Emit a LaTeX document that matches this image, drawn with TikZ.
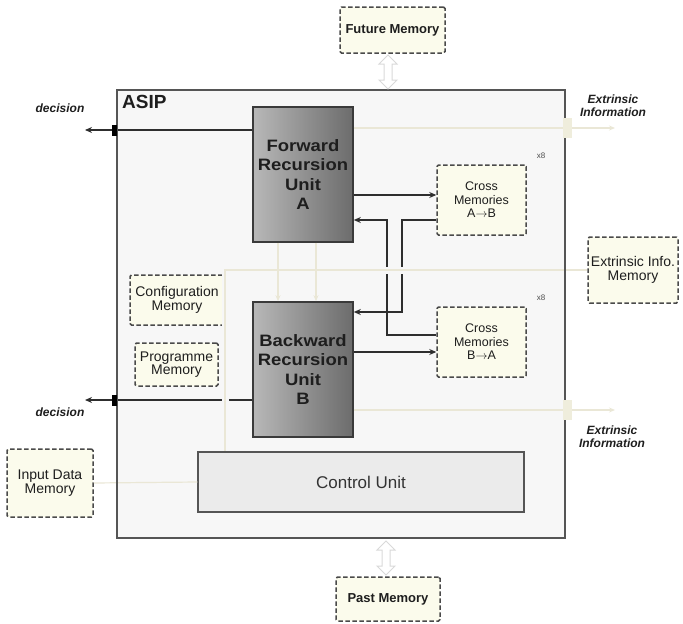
\documentclass[tikz,border=0pt]{standalone}
\usepackage{fontspec}
\setmainfont{Liberation Sans}
\newfontfamily\unitfont{Liberation Sans}[FakeStretch=1.12]
\usetikzlibrary{arrows.meta,calc}

\definecolor{frame}{HTML}{555555}
\definecolor{asipfill}{HTML}{F7F7F7}
\definecolor{memline}{HTML}{4A4A4A}
\definecolor{memfill}{HTML}{FBFBEC}
\definecolor{unitline}{HTML}{3A3A3A}
\definecolor{unitlight}{HTML}{B8B8B8}
\definecolor{unitdark}{HTML}{6C6C6C}
\definecolor{ctrlfill}{HTML}{EBEBEB}
\definecolor{blkc}{HTML}{2E2E2E}
\definecolor{lightc}{HTML}{EAE7D6}
\definecolor{portc}{HTML}{EFEDDC}
\definecolor{txt}{HTML}{1E1E1E}

\tikzset{
  mem/.style={draw=memline, fill=memfill, dashed, dash pattern=on 4.5pt off 2.5pt,
    line width=1.5pt, rounded corners=1.5pt, inner sep=0pt, align=center,
    text=txt, font=\fontsize{12.5}{13.5}\selectfont},
  widemem/.style={mem, font=\fontsize{14}{14.5}\selectfont},
  tightmem/.style={mem, font=\fontsize{14}{10.5}\selectfont},
  boldmem/.style={mem, font=\bfseries\fontsize{13}{14}\selectfont},
  unitbox/.style={draw=unitline, line width=1.6pt, left color=unitlight, right color=unitdark,
    minimum width=100pt, minimum height=135pt, inner sep=0pt, align=center, text=txt,
    font=\unitfont\bfseries\fontsize{16.5}{19.3}\selectfont},
  blk/.style={draw=blkc, line width=1.6pt},
  blkarr/.style={blk, -{Stealth[length=7pt,width=6pt]}},
  light/.style={draw=lightc, line width=1.2pt},
  lightarr/.style={light, -{Stealth[length=6pt,width=5pt]}},
  gap/.style={preaction={draw=asipfill, line width=7pt}},
  outlabel/.style={align=center, text=txt, font=\bfseries\itshape\fontsize{12}{13}\selectfont},
  port/.style={fill=portc, minimum width=9pt, minimum height=20pt, inner sep=0pt},
  pin/.style={fill=black, minimum width=5pt, minimum height=11pt, inner sep=0pt},
  updown/.pic={\draw[draw=gray!30, fill=white, line width=1pt, line join=miter]
    (0,-17) -- (9,-8) -- (4,-8) -- (4,8) -- (9,8) -- (0,17) -- (-9,8) -- (-4,8)
    -- (-4,-8) -- (-9,-8) -- cycle;}
}

\begin{document}
\begin{tikzpicture}[x=1pt,y=-1pt]
\useasboundingbox (0,0) rectangle (683,624);

% processor frame
\node[fill=asipfill, minimum width=448pt, minimum height=448pt, inner sep=0pt] (asip) at (341,314) {};
\node[anchor=north west, inner sep=0pt, text=txt, font=\bfseries\fontsize{19}{19}\selectfont] (asiplbl) at (122,95) {ASIP};

% recursion units
\node[unitbox] (fwd) at (303,174.5) {Forward\\Recursion\\Unit\\A};
\node[unitbox] (bwd) at (303,369.5) {Backward\\Recursion\\Unit\\B};

% control unit
\node[draw=frame, fill=ctrlfill, line width=1.4pt, minimum width=326pt, minimum height=60pt,
      inner sep=0pt, text=black!80, font=\fontsize{17}{17}\selectfont] (ctrl) at (361,482) {Control Unit};

% memories
\node[mem, minimum width=89pt, minimum height=70pt] (cab) at (481.5,200) {Cross\\Memories\\A$\rightarrow$B};
\node[mem, minimum width=89pt, minimum height=70pt] (cba) at (481.5,342) {Cross\\Memories\\B$\rightarrow$A};
\node[tightmem, minimum width=94pt, minimum height=50pt] (conf) at (177,300) {Configuration\\Memory};
\node[tightmem, minimum width=83pt, minimum height=43pt] (prog) at (176.5,364.5) {Programme\\Memory};
\node[boldmem, minimum width=105pt, minimum height=46pt] (fut) at (392.5,30) {Future Memory};
\node[boldmem, minimum width=104pt, minimum height=44pt] (past) at (388,599) {Past Memory};
\node[widemem, minimum width=90pt, minimum height=66pt] (extm) at (633,270) {Extrinsic Info.\\Memory};
\node[widemem, minimum width=86pt, minimum height=68pt] (inp) at (50,483) {Input Data\\Memory};

% multiplicity marks
\node[font=\fontsize{8}{8}\selectfont, text=black!70] (xa) at (541,156) {x8};
\node[font=\fontsize{8}{8}\selectfont, text=black!70] (xb) at (541,298) {x8};

% free connector ends
\coordinate (dtop) at (85,130);
\coordinate (dbot) at (85,400);
\coordinate (etop) at (615,128);
\coordinate (ebot) at (615,410);
\coordinate (jn) at (225,270);
\coordinate (la) at (278,0);
\coordinate (lb) at (316,0);
\coordinate (ra) at (0,195);
\coordinate (rb) at (0,352);
\coordinate (qa) at (402,220);
\coordinate (qb) at (387,335);
\coordinate (qc) at (0,312);

% decision outputs
\draw[blkarr] (fwd.west |- dtop) -- (dtop);
\draw[blkarr] (bwd.west |- dbot) -- (dbot);

% cross memory traffic
\draw[blkarr] (fwd.east |- ra) -- (cab.west |- ra);
\draw[blkarr] (bwd.east |- rb) -- (cba.west |- rb);
\draw[blkarr] (cab.west |- qa) -- (qa) -- (qa |- qc) -- (bwd.east |- qc);
\draw[blkarr] (cba.west |- qb) -- (qb) -- (qb |- qa) -- (fwd.east |- qa);

% extrinsic information paths
\draw[light] (extm.west) -- ($(extm.west -| asip.east)+(-2,0)$);
\draw[light, gap] ($(extm.west -| asip.east)+(-2,0)$) -- (jn) -- (jn |- ctrl.north);
\draw[lightarr] (fwd.south -| la) -- (bwd.north -| la);
\draw[lightarr] (fwd.south -| lb) -- (bwd.north -| lb);
\draw[lightarr] (fwd.east |- etop) -- (etop);
\draw[lightarr] (bwd.east |- ebot) -- (ebot);
\draw[light] (inp.east) -- (ctrl.west);

% frame outline on top of the paths that pass through it
\draw[draw=frame, line width=1.8pt] (asip.north west) rectangle (asip.south east);

% ports on the frame
\node[pin] (ptop) at (114.5,130) {};
\node[pin] (pbot) at (114.5,400) {};
\node[port] (xtop) at (567.5,127.5) {};
\node[port] (xbot) at (567.5,410) {};

% memory links through the frame
\pic at (388,72) {updown};
\pic at (386,558) {updown};

% output labels
\node[outlabel] (dec1) at (60,108) {decision};
\node[outlabel] (dec2) at (60,412) {decision};
\node[outlabel] (ext1) at (613,106) {Extrinsic\\Information};
\node[outlabel] (ext2) at (612,437) {Extrinsic\\Information};
\end{tikzpicture}
\end{document}
